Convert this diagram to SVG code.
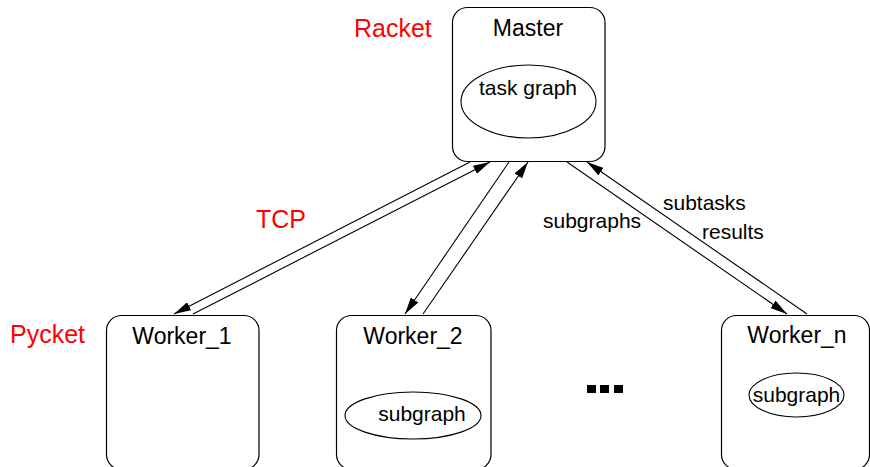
<svg xmlns="http://www.w3.org/2000/svg" width="870" height="467" viewBox="0 0 870 467">
  <style>
    .box { fill: #fff; stroke: #000; stroke-width: 1.2; }
    .oval { fill: none; stroke: #000; stroke-width: 1.1; }
    .link { fill: none; stroke: #000; stroke-width: 1.1; marker-end: url(#ah); }
    text { font-family: "Liberation Sans", Arial, Helvetica, sans-serif; fill: #000; }
    .title { font-size: 23px; text-anchor: middle; }
    .inner { font-size: 21px; text-anchor: middle; }
    .lbl { font-size: 21px; }
    .red { font-size: 25px; fill: #ff0000; }
  </style>
  <defs>
    <marker id="ah" markerWidth="17" markerHeight="9" refX="17" refY="4.5" orient="auto" markerUnits="userSpaceOnUse">
      <path d="M0,0 L17,4.5 L0,9 z" fill="#000"/>
    </marker>
  </defs>

  <rect width="870" height="467" fill="#fff"/>

  <!-- master node -->
  <g id="master">
    <rect class="box" x="452.5" y="7.5" width="152.5" height="154" rx="15" ry="15"/>
    <text class="title" x="528" y="36">Master</text>
    <ellipse class="oval" cx="528.5" cy="101.5" rx="67.5" ry="36.5"/>
    <text class="inner" x="528" y="95">task graph</text>
  </g>

  <!-- worker nodes -->
  <g id="worker1">
    <rect class="box" x="106.5" y="315.5" width="152.5" height="154" rx="15" ry="15"/>
    <text class="title" x="182" y="344">Worker_1</text>
  </g>

  <g id="worker2">
    <rect class="box" x="336.5" y="315.5" width="154.5" height="154" rx="15" ry="15"/>
    <text class="title" x="413" y="344">Worker_2</text>
    <ellipse class="oval" cx="413" cy="415.5" rx="68" ry="23.5"/>
    <text class="inner" x="422" y="421">subgraph</text>
  </g>

  <g id="workern">
    <rect class="box" x="721.5" y="315.5" width="148" height="154" rx="15" ry="15"/>
    <text class="title" x="797" y="343">Worker_n</text>
    <ellipse class="oval" cx="796.5" cy="395" rx="47.5" ry="22"/>
    <text class="inner" x="796.5" y="402">subgraph</text>
  </g>

  <!-- ellipsis between workers -->
  <g id="more" fill="#000">
    <rect x="587" y="385" width="9" height="8"/>
    <rect x="600" y="385" width="9" height="8"/>
    <rect x="614" y="385" width="9" height="8"/>
  </g>

  <!-- connectors: a pair of opposite arrows per master/worker link -->
  <g id="connectors">
    <path class="link" d="M470,162 L174,314"/>
    <path class="link" d="M193,314 L490,162"/>
    <path class="link" d="M509,162 L405,314"/>
    <path class="link" d="M423,314 L528,162"/>
    <path class="link" d="M567,162 L787,314"/>
    <path class="link" d="M807,314 L587,162"/>
  </g>

  <!-- labels -->
  <g id="labels">
    <text class="red" x="354" y="37">Racket</text>
    <text class="red" x="10" y="343">Pycket</text>
    <text class="red" x="256" y="228">TCP</text>
    <text class="lbl" x="543" y="228">subgraphs</text>
    <text class="lbl" x="663" y="210">subtasks</text>
    <text class="lbl" x="702" y="239">results</text>
  </g>
</svg>
